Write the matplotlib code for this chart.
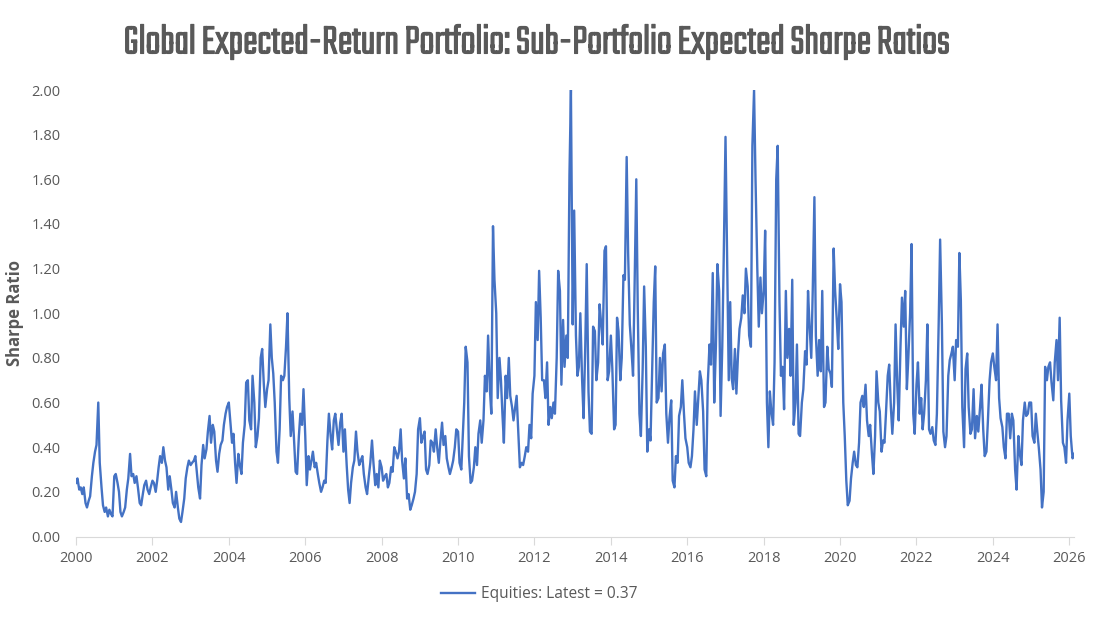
import matplotlib
matplotlib.use('Agg')
import matplotlib.pyplot as plt
import matplotlib.dates as mdates
import matplotlib.patheffects as pe
from matplotlib.ticker import FormatStrFormatter
import numpy as np
import pandas as pd

# semi-monthly readings of the equities sub-portfolio expected Sharpe ratio
y2000 = [0.24, 0.26, 0.21, 0.22, 0.19, 0.22, 0.15, 0.13, 0.16, 0.18, 0.27, 0.33, 0.38, 0.41, 0.60, 0.33, 0.22, 0.14, 0.11, 0.13, 0.09, 0.12, 0.10, 0.09]
y2001 = [0.27, 0.28, 0.24, 0.20, 0.11, 0.09, 0.11, 0.13, 0.21, 0.26, 0.37, 0.27, 0.28, 0.24, 0.27, 0.22, 0.15, 0.14, 0.19, 0.23, 0.25, 0.21, 0.19, 0.22]
y2002 = [0.25, 0.24, 0.20, 0.25, 0.31, 0.36, 0.33, 0.40, 0.34, 0.31, 0.21, 0.27, 0.21, 0.15, 0.13, 0.20, 0.13, 0.08, 0.065, 0.11, 0.17, 0.26, 0.31, 0.34]
y2003 = [0.32, 0.33, 0.34, 0.36, 0.29, 0.22, 0.17, 0.32, 0.41, 0.35, 0.39, 0.47, 0.54, 0.42, 0.50, 0.47, 0.34, 0.29, 0.37, 0.41, 0.43, 0.50, 0.55, 0.58]
y2004 = [0.60, 0.52, 0.42, 0.46, 0.33, 0.24, 0.37, 0.32, 0.28, 0.42, 0.50, 0.69, 0.70, 0.52, 0.48, 0.72, 0.60, 0.40, 0.45, 0.53, 0.80, 0.84, 0.68, 0.58]
y2005 = [0.66, 0.70, 0.95, 0.80, 0.73, 0.60, 0.38, 0.33, 0.48, 0.72, 0.70, 0.72, 0.85, 1.00, 0.62, 0.45, 0.56, 0.44, 0.29, 0.28, 0.45, 0.55, 0.50, 0.66]
y2006 = [0.45, 0.23, 0.36, 0.30, 0.34, 0.38, 0.31, 0.33, 0.28, 0.24, 0.20, 0.22, 0.25, 0.24, 0.43, 0.55, 0.45, 0.39, 0.52, 0.55, 0.47, 0.41, 0.51, 0.55]
y2007 = [0.38, 0.48, 0.32, 0.21, 0.15, 0.24, 0.31, 0.34, 0.47, 0.38, 0.32, 0.34, 0.36, 0.28, 0.22, 0.19, 0.27, 0.33, 0.43, 0.33, 0.23, 0.28, 0.22, 0.34]
y2008 = [0.31, 0.25, 0.27, 0.28, 0.22, 0.24, 0.31, 0.29, 0.40, 0.38, 0.35, 0.38, 0.48, 0.34, 0.26, 0.35, 0.17, 0.19, 0.12, 0.14, 0.17, 0.20, 0.28, 0.48]
y2009 = [0.53, 0.42, 0.45, 0.47, 0.30, 0.28, 0.32, 0.43, 0.42, 0.38, 0.48, 0.40, 0.33, 0.42, 0.51, 0.41, 0.45, 0.35, 0.31, 0.28, 0.31, 0.34, 0.40, 0.48]
y2010 = [0.47, 0.33, 0.30, 0.45, 0.60, 0.85, 0.78, 0.36, 0.24, 0.25, 0.31, 0.40, 0.32, 0.46, 0.52, 0.42, 0.52, 0.72, 0.65, 0.90, 0.66, 0.55, 1.39, 1.15]
y2011 = [1.00, 0.62, 0.80, 0.70, 0.55, 0.42, 0.72, 0.62, 0.80, 0.63, 0.58, 0.52, 0.58, 0.63, 0.45, 0.31, 0.33, 0.32, 0.36, 0.40, 0.38, 0.50, 0.44, 0.64]
y2012 = [0.72, 1.05, 0.88, 1.19, 0.98, 0.70, 0.70, 0.62, 0.78, 0.50, 0.58, 0.53, 0.60, 0.55, 0.80, 1.19, 1.10, 0.68, 0.97, 0.76, 0.90, 0.80, 1.62, 2.00]
y2013 = [0.95, 1.46, 0.90, 0.72, 0.76, 1.00, 0.70, 0.53, 0.85, 1.22, 0.65, 0.47, 0.46, 0.94, 0.92, 0.70, 0.78, 1.04, 0.95, 0.86, 1.28, 1.30, 0.70, 0.74]
y2014 = [0.90, 0.75, 0.48, 0.50, 0.98, 0.92, 0.70, 0.80, 1.17, 1.15, 1.70, 1.27, 0.95, 0.85, 0.72, 1.10, 1.60, 1.02, 0.55, 0.45, 0.75, 1.12, 0.85, 0.38]
y2015 = [0.48, 0.43, 0.78, 1.05, 1.21, 0.60, 0.62, 0.80, 0.65, 0.82, 0.86, 0.55, 0.42, 0.53, 0.61, 0.25, 0.22, 0.36, 0.33, 0.54, 0.58, 0.70, 0.55, 0.44]
y2016 = [0.40, 0.33, 0.31, 0.36, 0.48, 0.65, 0.50, 0.61, 0.74, 0.70, 0.56, 0.30, 0.27, 0.68, 0.86, 0.77, 1.18, 0.60, 0.85, 1.22, 1.10, 0.54, 0.85, 1.25]
y2017 = [1.79, 1.30, 0.70, 1.05, 0.71, 0.66, 0.84, 0.64, 0.82, 0.93, 0.98, 1.08, 1.00, 1.20, 1.12, 0.90, 0.85, 1.75, 2.00, 1.60, 1.20, 0.94, 1.16, 1.00]
y2018 = [1.10, 1.37, 0.60, 0.40, 0.65, 0.56, 0.50, 0.78, 1.60, 1.75, 1.05, 0.72, 0.76, 0.57, 1.10, 0.80, 0.93, 0.72, 1.15, 0.50, 0.60, 0.86, 0.46, 0.45]
y2019 = [0.60, 0.66, 0.83, 0.77, 1.10, 0.95, 0.80, 1.10, 1.52, 0.90, 0.72, 0.88, 0.74, 1.10, 0.58, 0.60, 0.85, 0.75, 0.73, 0.67, 1.29, 1.10, 0.97, 0.84]
y2020 = [1.13, 1.05, 0.60, 0.45, 0.25, 0.14, 0.16, 0.26, 0.33, 0.38, 0.32, 0.31, 0.42, 0.60, 0.63, 0.58, 0.68, 0.52, 0.45, 0.50, 0.37, 0.28, 0.45, 0.74]
y2021 = [0.60, 0.56, 0.38, 0.43, 0.42, 0.55, 0.72, 0.77, 0.58, 0.46, 0.60, 0.95, 0.68, 0.52, 0.85, 1.07, 0.94, 1.10, 0.66, 0.80, 1.00, 1.31, 0.55, 0.46]
y2022 = [0.68, 0.78, 0.55, 0.62, 0.48, 0.55, 0.70, 0.95, 0.48, 0.46, 0.49, 0.43, 0.41, 0.55, 0.95, 1.33, 0.95, 0.47, 0.40, 0.45, 0.72, 0.79, 0.82, 0.85]
y2023 = [0.70, 0.88, 0.85, 1.27, 1.06, 0.58, 0.40, 0.75, 0.82, 0.58, 0.46, 0.48, 0.66, 0.44, 0.54, 0.47, 0.58, 0.68, 0.48, 0.36, 0.38, 0.52, 0.70, 0.78]
y2024 = [0.82, 0.76, 0.70, 0.95, 0.62, 0.53, 0.49, 0.40, 0.35, 0.55, 0.55, 0.44, 0.55, 0.52, 0.30, 0.21, 0.45, 0.37, 0.32, 0.52, 0.60, 0.54, 0.55, 0.60]
y2025 = [0.60, 0.45, 0.42, 0.55, 0.47, 0.40, 0.30, 0.13, 0.20, 0.76, 0.70, 0.76, 0.78, 0.69, 0.61, 0.78, 0.88, 0.70, 0.98, 0.61, 0.42, 0.40, 0.33, 0.52]
y2026 = [0.64, 0.45, 0.35, 0.37]

values = np.concatenate([y2000, y2001, y2002, y2003, y2004, y2005, y2006, y2007, y2008,
                         y2009, y2010, y2011, y2012, y2013, y2014, y2015, y2016, y2017,
                         y2018, y2019, y2020, y2021, y2022, y2023, y2024, y2025, y2026])
dates = pd.date_range('2000-01-01', periods=len(values), freq='SMS')

title = 'Global Expected-Return Portfolio: Sub-Portfolio Expected Sharpe Ratios'
series_label = 'Equities: Latest = 0.37'

plt.rcParams['font.family'] = ['Open Sans', 'DejaVu Sans']
grey = '#595959'
blue = '#4472C4'

W, H = 1112, 619
fig = plt.figure(figsize=(W / 100, H / 100), dpi=100)
ax = fig.add_axes([76 / W, 1 - 536.5 / H, (1074 - 76) / W, (536.5 - 90) / H])

ax.plot(dates, values, color=blue, lw=1.7, label=series_label, solid_joinstyle='round')
ax.set_xlim(pd.Timestamp('2000-01-01'), dates[-1])
ax.set_ylim(0, 2)
ax.set_yticks(np.arange(0, 2.01, 0.2))
ax.yaxis.set_major_formatter(FormatStrFormatter('%.2f'))
ax.xaxis.set_major_locator(mdates.YearLocator(2))
ax.xaxis.set_major_formatter(mdates.DateFormatter('%Y'))

for s in ['top', 'right', 'left']:
    ax.spines[s].set_visible(False)
ax.spines['bottom'].set_color('#d9d9d9')
ax.tick_params(axis='y', length=0, pad=11, labelsize=10.5, labelcolor=grey)
ax.tick_params(axis='x', length=5.5, color='#d9d9d9', pad=5, labelsize=10.5, labelcolor=grey)

fig.text(15 / W, 1 - 313 / H, 'Sharpe Ratio', rotation=90, ha='center', va='center',
         fontsize=12, fontweight='bold', color=grey)

t = fig.text(537 / W, 1 - 42 / H, title, ha='center', va='center', fontsize=28,
             fontweight='bold', family=['Teko', 'Roboto Condensed', 'DejaVu Sans'], color=grey,
             path_effects=[pe.withStroke(linewidth=0.8, foreground=grey)])
# scale the title so it spans the same width as the original
fig.canvas.draw()
w = t.get_window_extent().width
t.set_fontsize(28 * 824 / w)

fig.legend(loc='center', bbox_to_anchor=(539 / W, 1 - 594 / H), frameon=False,
           fontsize=11.2, labelcolor=grey, handlelength=2.2, handletextpad=0.4)

fig.savefig('out.png', dpi=100)
